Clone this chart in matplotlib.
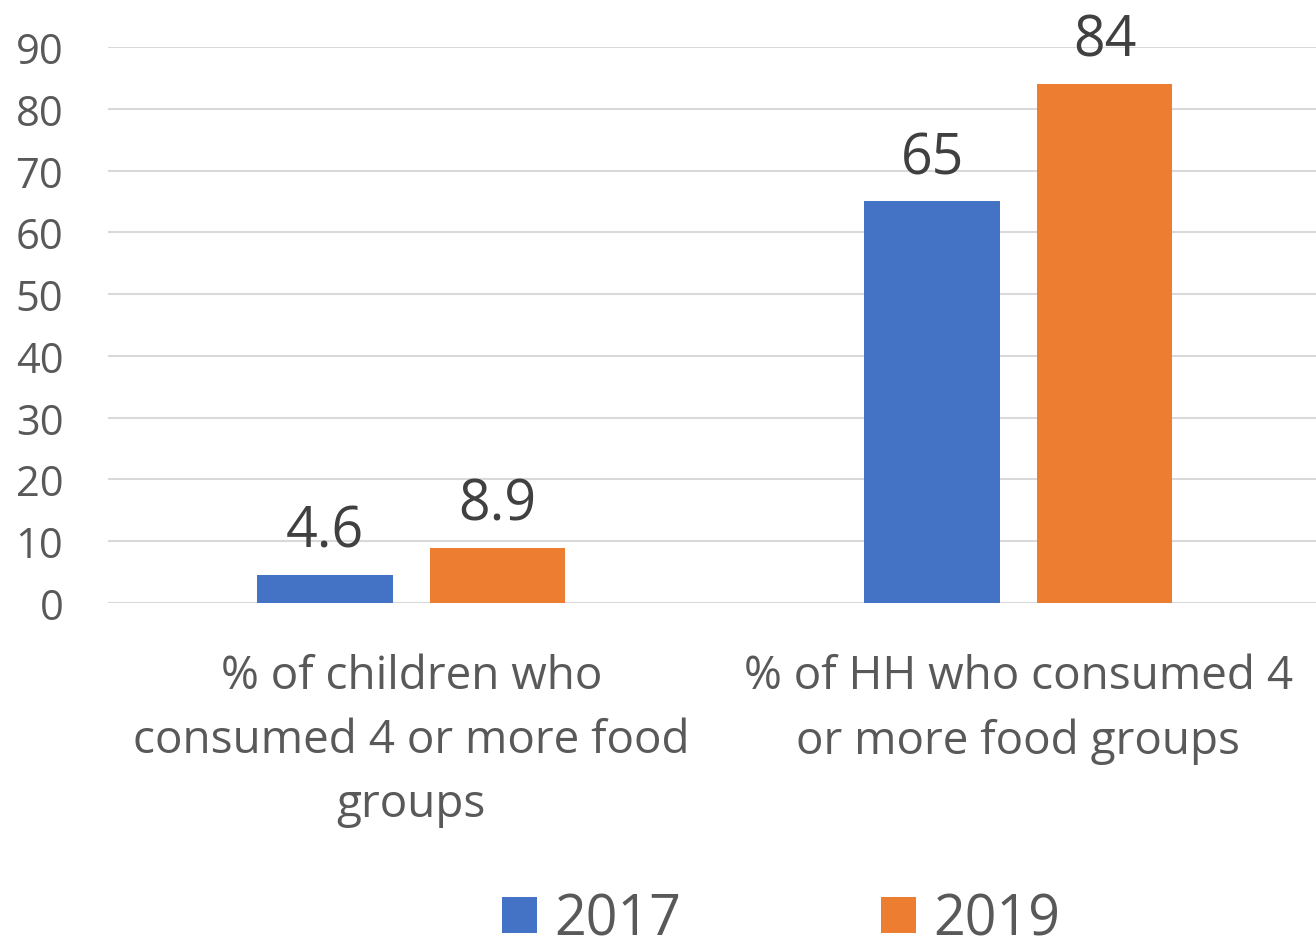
import matplotlib
matplotlib.use("Agg")
import matplotlib.pyplot as plt
import numpy as np

categories = ["% of children who\nconsumed 4 or more food\ngroups",
              "% of HH who consumed 4\nor more food groups"]
series_names = ["2017", "2019"]
values_2017 = [4.6, 65]
values_2019 = [8.9, 84]
labels_2017 = ["4.6", "65"]
labels_2019 = ["8.9", "84"]
yticks = [0, 10, 20, 30, 40, 50, 60, 70, 80, 90]

plt.rcParams['font.family'] = ['Open Sans', 'DejaVu Sans']

fig = plt.figure(figsize=(13.16, 9.53), dpi=100)
ax = fig.add_axes([107.8/1316, 1-604/953, 1214/1316, (604-48)/953])

x = np.arange(len(categories))
w = 0.224
off = 0.142
b1 = ax.bar(x - off, values_2017, w, color="#4472C4", label=series_names[0], zorder=3)
b2 = ax.bar(x + off, values_2019, w, color="#ED7D31", label=series_names[1], zorder=3)

for bars, labs in ((b1, labels_2017), (b2, labels_2019)):
    for r, lab in zip(bars, labs):
        ax.text(r.get_x() + r.get_width()/2, r.get_height() + 4.6, lab,
                ha="center", va="baseline", fontsize=40, color="#404040", clip_on=False)

ax.set_xlim(-0.5, 1.5)
ax.set_ylim(0, 90)
ax.set_yticks(yticks)
ax.set_yticklabels([str(t) for t in yticks], fontsize=30, color="#595959")
ax.set_xticks(x)
ax.set_xticklabels(categories, fontsize=33, color="#595959", linespacing=1.52)
ax.tick_params(axis="both", length=0)
ax.tick_params(axis="x", pad=36)
ax.tick_params(axis="y", pad=32)
ax.grid(axis="y", color="#D9D9D9", linewidth=1.5, zorder=0)
for s in ax.spines.values():
    s.set_visible(False)

leg = fig.legend(handles=[b1, b2], labels=series_names, loc="center",
                 bbox_to_anchor=(781/1316, 1-921/953), ncol=2, frameon=False,
                 fontsize=40, handlelength=0.64, handleheight=0.64,
                 columnspacing=3.6, handletextpad=0.3, borderpad=0.2)
for t in leg.get_texts():
    t.set_color("#595959")

fig.savefig("out.png", dpi=100)
